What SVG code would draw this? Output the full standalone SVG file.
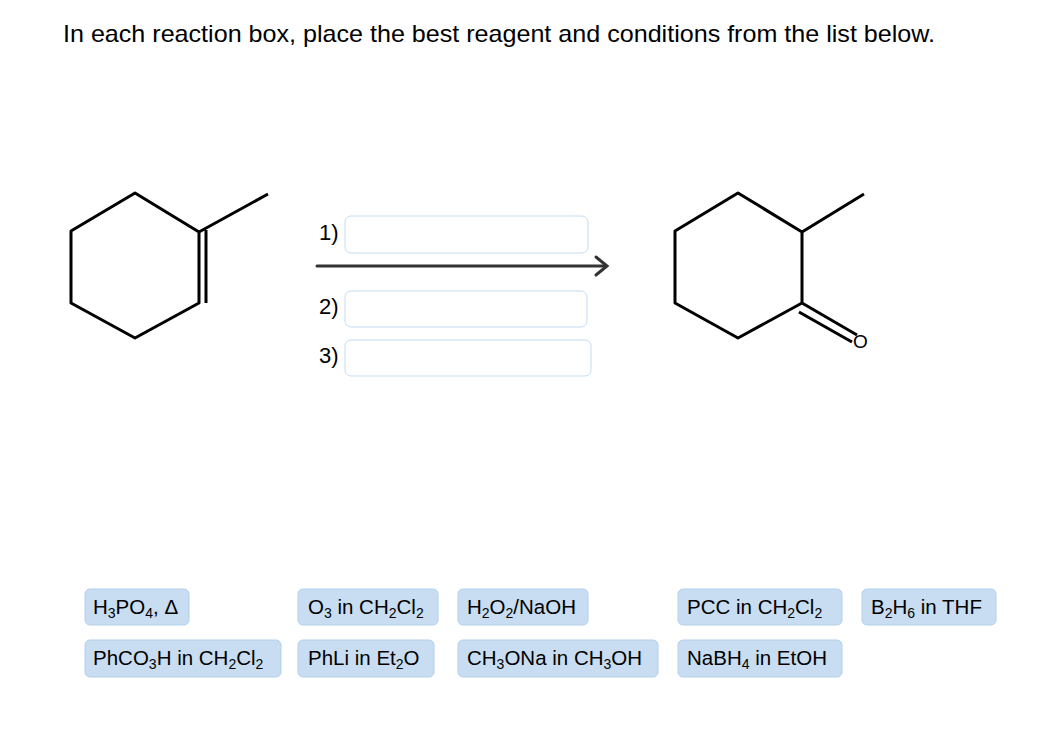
<svg xmlns="http://www.w3.org/2000/svg" width="1041" height="748" viewBox="0 0 1041 748">
<style>
text{font-family:"Liberation Sans",Arial,sans-serif;fill:#000}
.t{font-size:24px}
.c{font-size:20.5px}
.chip{fill:#c8ddf1;stroke:#b3d0ec;stroke-width:1}
.box{fill:#fff;stroke:#c3dcf3;stroke-width:1}
.b{fill:none;stroke:#000;stroke-width:3;stroke-linejoin:round}
.lab{font-size:22px}
</style>
<rect width="1041" height="748" fill="#fff"/>
<text class="t" x="63" y="42" textLength="872" lengthAdjust="spacingAndGlyphs">In each reaction box, place the best reagent and conditions from the list below.</text>
<g id="reactant">
<path class="b" d="M199,232 L135,193 L71,231 L71,303 L135,338 L199,303 Z M199,232 L268,194"/>
<line class="b" x1="206" y1="230" x2="206" y2="303"/>
</g>
<g id="product">
<path class="b" d="M802,232 L738,193 L675,231 L675,303 L738,338 L802,303 Z M802,232 L864,194"/>
<line class="b" x1="802" y1="303" x2="857" y2="335"/>
<line class="b" x1="799" y1="312" x2="852" y2="342"/>
<text x="853" y="348" font-size="19">O</text>
</g>
<g id="connectors">
<line x1="317" y1="266" x2="606" y2="266" stroke="#333" stroke-width="3" stroke-linecap="round"/>
<path d="M596,257 L607,266 L596,275" fill="none" stroke="#333" stroke-width="3" stroke-linecap="round"/>
</g>
<g id="box1"><text class="lab" x="319" y="240">1)</text><rect class="box" x="345" y="216" width="243" height="37" rx="6"/></g>
<g id="box2"><text class="lab" x="319" y="314">2)</text><rect class="box" x="345" y="291" width="242" height="36" rx="6"/></g>
<g id="box3"><text class="lab" x="319" y="363">3)</text><rect class="box" x="345" y="340" width="246" height="36" rx="6"/></g>
<g id="c1"><rect class="chip" x="85" y="589" width="104" height="36" rx="5"/><text class="c" x="93" y="614">H<tspan font-size="14" dy="4">3</tspan><tspan dy="-4">PO</tspan><tspan font-size="14" dy="4">4</tspan><tspan dy="-4">, Δ</tspan></text></g>
<g id="c2"><rect class="chip" x="298" y="589" width="140" height="36" rx="5"/><text class="c" x="308" y="614">O<tspan font-size="14" dy="4">3</tspan><tspan dy="-4"> in CH</tspan><tspan font-size="14" dy="4">2</tspan><tspan dy="-4">Cl</tspan><tspan font-size="14" dy="4">2</tspan></text></g>
<g id="c3"><rect class="chip" x="458" y="589" width="130" height="36" rx="5"/><text class="c" x="467" y="614">H<tspan font-size="14" dy="4">2</tspan><tspan dy="-4">O</tspan><tspan font-size="14" dy="4">2</tspan><tspan dy="-4">/NaOH</tspan></text></g>
<g id="c4"><rect class="chip" x="678" y="589" width="164" height="36" rx="5"/><text class="c" x="687" y="614">PCC in CH<tspan font-size="14" dy="4">2</tspan><tspan dy="-4">Cl</tspan><tspan font-size="14" dy="4">2</tspan></text></g>
<g id="c5"><rect class="chip" x="862" y="589" width="134" height="36" rx="5"/><text class="c" x="871" y="614">B<tspan font-size="14" dy="4">2</tspan><tspan dy="-4">H</tspan><tspan font-size="14" dy="4">6</tspan><tspan dy="-4"> in THF</tspan></text></g>
<g id="c6"><rect class="chip" x="85" y="640" width="196" height="37" rx="5"/><text class="c" x="93" y="665">PhCO<tspan font-size="14" dy="4">3</tspan><tspan dy="-4">H in CH</tspan><tspan font-size="14" dy="4">2</tspan><tspan dy="-4">Cl</tspan><tspan font-size="14" dy="4">2</tspan></text></g>
<g id="c7"><rect class="chip" x="298" y="640" width="136" height="37" rx="5"/><text class="c" x="308" y="665">PhLi in Et<tspan font-size="14" dy="4">2</tspan><tspan dy="-4">O</tspan></text></g>
<g id="c8"><rect class="chip" x="458" y="640" width="200" height="37" rx="5"/><text class="c" x="467" y="665">CH<tspan font-size="14" dy="4">3</tspan><tspan dy="-4">ONa in CH</tspan><tspan font-size="14" dy="4">3</tspan><tspan dy="-4">OH</tspan></text></g>
<g id="c9"><rect class="chip" x="678" y="640" width="164" height="37" rx="5"/><text class="c" x="687" y="665">NaBH<tspan font-size="14" dy="4">4</tspan><tspan dy="-4"> in EtOH</tspan></text></g>
</svg>
